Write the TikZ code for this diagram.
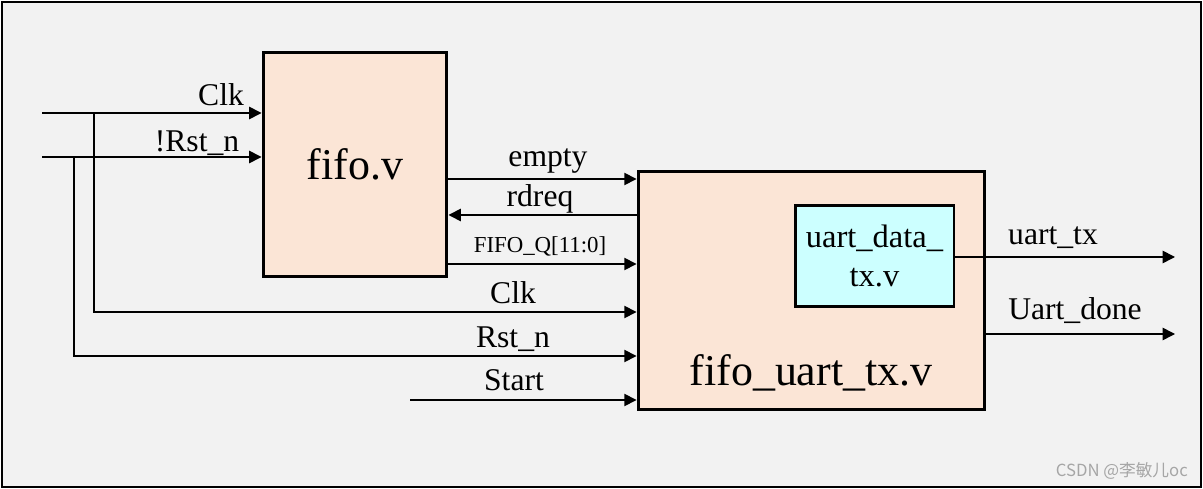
\documentclass[tikz,border=0pt]{standalone}
\usepackage{fontspec}
\setmainfont{Liberation Serif}
\newfontfamily\cjkfont{Noto Sans CJK SC}
\usetikzlibrary{arrows.meta}
\definecolor{bgGray}{HTML}{F2F2F2}
\definecolor{modPeach}{HTML}{FBE5D6}
\definecolor{modCyan}{HTML}{CCFFFF}

\begin{document}
\begin{tikzpicture}[x=0.02cm, y=-0.02cm,
    sig/.style={-{Triangle[length=7pt,width=7pt]}, line width=0.9pt},
    module/.style={draw, line width=1.7pt, fill=modPeach},
    lbl/.style={anchor=base, font=\fontsize{18}{20}\selectfont}]
    \useasboundingbox (0,0) rectangle (1203,489);
    \draw [line width=1.3pt, fill=bgGray] (2,2) rectangle (1201,487);

    % modules
    \node [module, minimum width=3.68cm, minimum height=4.5cm, font=\fontsize{25}{30}\selectfont] (fifo) at (355,164.5) {fifo.v};
    \node [module, minimum width=6.94cm, minimum height=4.78cm] (tx) at (811.5,290.5) {};
    \node [module, fill=modCyan, minimum width=3.18cm, minimum height=2.04cm, align=center, font=\fontsize{18.5}{22.2}\selectfont] (dtx) at (874.5,256) {uart\_data\_\\tx.v};
    \node [anchor=base, font=\fontsize{25}{30}\selectfont] (txname) at (811,385) {fifo\_uart\_tx.v};

    % free ends
    \coordinate (inClk) at (42,113);
    \coordinate (inRst) at (42,157);
    \coordinate (brClk) at (94,113);
    \coordinate (brRst) at (74,157);
    \coordinate (inStart) at (410,400);
    \coordinate (outTx) at (1175,257);
    \coordinate (outDone) at (1175,334);
    % rows
    \coordinate (rEmpty) at (0,179);
    \coordinate (rRdreq) at (0,215);
    \coordinate (rQ) at (0,264);
    \coordinate (rClk) at (0,312);
    \coordinate (rRst) at (0,356);

    \draw [sig] (inClk) -- (inClk -| fifo.west);
    \draw [sig] (inRst) -- (inRst -| fifo.west);
    \draw [sig] (brClk) -- (brClk |- rClk) -- (rClk -| tx.west);
    \draw [sig] (brRst) -- (brRst |- rRst) -- (rRst -| tx.west);
    \draw [sig] (inStart) -- (inStart -| tx.west);
    \draw [sig] (fifo.east |- rEmpty) -- (tx.west |- rEmpty);
    \draw [sig] (tx.west |- rRdreq) -- (fifo.east |- rRdreq);
    \draw [sig] (fifo.east |- rQ) -- (tx.west |- rQ);
    \draw [sig] (dtx.east |- outTx) -- (outTx);
    \draw [sig] (tx.east |- outDone) -- (outDone);

    % labels
    \node [lbl] (lClkA) at (221,106) {Clk};
    \node [lbl] (lRstA) at (197,152) {!Rst\_n};
    \node [lbl] (lEmpty) at (548,167) {empty};
    \node [lbl] (lRdreq) at (540,207) {rdreq};
    \node [lbl, font=\fontsize{13}{15}\selectfont] (lQ) at (540,253) {FIFO\_Q[11:0]};
    \node [lbl] (lClkB) at (513,304) {Clk};
    \node [lbl] (lRstB) at (513,348) {Rst\_n};
    \node [lbl] (lStart) at (514,390) {Start};
    \node [lbl] (lTx) at (1053,245) {uart\_tx};
    \node [lbl] (lDone) at (1075,319) {Uart\_done};
    \node [anchor=base east, text=gray!70, font=\cjkfont\fontsize{9.5}{11}\selectfont] (mark) at (1194,476) {CSDN @李敏儿oc};
\end{tikzpicture}
\end{document}
